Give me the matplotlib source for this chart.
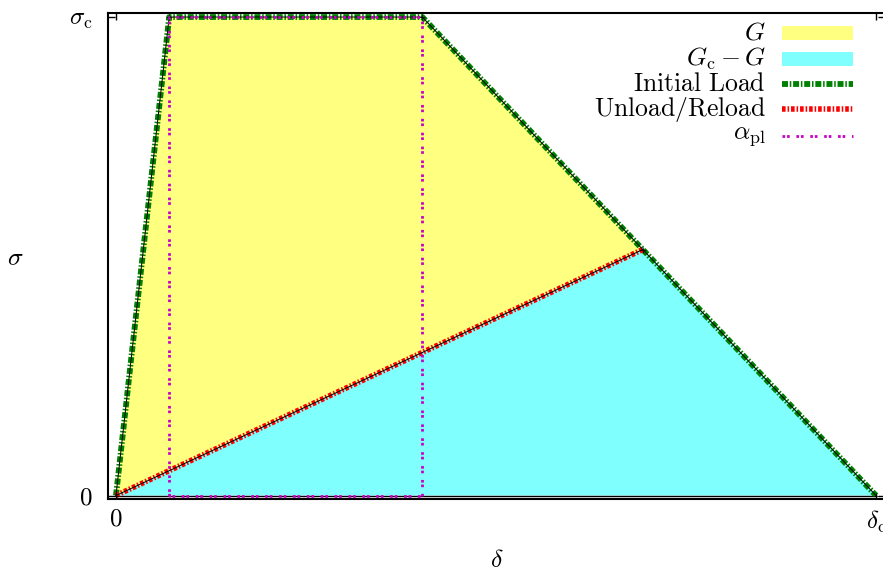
import matplotlib
matplotlib.use("Agg")
import matplotlib.pyplot as plt
from matplotlib.patches import Rectangle
from matplotlib.lines import Line2D

plt.rcParams["mathtext.fontset"] = "cm"
plt.rcParams["font.family"] = ["cmr10", "DejaVu Serif"]
plt.rcParams["lines.scale_dashes"] = False
plt.rcParams["axes.unicode_minus"] = False

# Cohesive law: initial loading envelope (normalised delta / sigma)
delta_env = [0.0, 0.07, 0.403, 1.0]
sigma_env = [0.0, 1.0, 1.0, 0.0]

# Unload / reload branch back to the origin from the current point
delta_unload = [0.0, 0.693]
sigma_unload = [0.0, 0.514]

# Plastic zone indicator alpha_pl
delta_pl = [0.07, 0.07, 0.403, 0.403, 0.07]
sigma_pl = [0.0, 1.0, 1.0, 0.0, 0.0]

# Energy regions
delta_G = [0.0, 0.07, 0.403, 0.693, 0.0]
sigma_G = [0.0, 1.0, 1.0, 0.514, 0.0]
delta_Gc = [0.0, 0.693, 1.0, 0.0]
sigma_Gc = [0.0, 0.514, 0.0, 0.0]

x_ticks = [0.0, 1.0]
x_ticklabels = [r"$0$", r"$\delta_{\rm c}$"]
y_ticks = [0.0, 1.0]
y_ticklabels = [r"$0$", r"$\sigma_{\rm c}$"]

legend_labels = [r"$G$", r"$G_{\rm c}-G$", r"$\mathrm{Initial\ Load}$",
                 r"$\mathrm{Unload/Reload}$", r"$\alpha_{\rm pl}$"]

c_yellow = "#ffff80"
c_cyan = "#80ffff"
c_green = "#008000"
c_red = "#ff0000"
c_mag = "#c800c8"

green_style = dict(color=c_green, lw=4.2, dashes=(4.3, 1.3, 1.1, 1.3))
red_style = dict(color=c_red, lw=4.0, dashes=(2.6, 1.4, 1.1, 1.4))
mag_style = dict(color=c_mag, lw=2.0, dashes=(1.9, 1.4, 1.9, 4.8))

fs = 18.5
fs_tick = 18

fig = plt.figure(figsize=(8.83, 5.71), dpi=100)
ax_w_px = 777
ax = fig.add_axes([108 / 883, 1 - 499 / 571, ax_w_px / 883, 486 / 571])

ax.fill(delta_G, sigma_G, color=c_yellow, lw=0, zorder=1)
ax.fill(delta_Gc, sigma_Gc, color=c_cyan, lw=0, zorder=1)

ax.plot(delta_env, sigma_env, zorder=3, **green_style)
ax.plot(delta_unload, sigma_unload, zorder=3, **red_style)
ax.plot([0.0, delta_env[-1]], [0.0, 0.0], color="black", lw=1.0, zorder=2)

# thin centre line with point marks along the curves
for xs, ys in [(delta_env, sigma_env), (delta_unload, sigma_unload)]:
    ax.plot(xs, ys, color="black", lw=0.7, marker="+", ms=4.5, mew=0.5,
            markevery=0.0145, zorder=4)

ax.plot(delta_pl, sigma_pl, zorder=5, **mag_style)

ax.set_xlim(-0.0105, 1.0118)
ax.set_ylim(-0.0073, 1.0084)

ax.set_xticks(x_ticks)
ax.set_xticklabels(x_ticklabels, fontsize=fs_tick)
ax.set_yticks(y_ticks)
ax.set_yticklabels(y_ticklabels, fontsize=fs_tick)
ax.tick_params(direction="in", length=5, width=1.0, top=True, right=True)
ax.tick_params(axis="x", pad=7)
ax.tick_params(axis="y", pad=11)
for s in ax.spines.values():
    s.set_linewidth(1.5)

ax.set_xlabel(r"$\delta$", fontsize=fs)
ax.xaxis.set_label_coords((497 - 108) / ax_w_px, -0.1255)
ax.xaxis.label.set_va("center")
ax.set_ylabel(r"$\sigma$", fontsize=fs, rotation=0, va="center", ha="center")
ax.yaxis.set_label_coords((15 - 108) / ax_w_px, 0.496)

# key, drawn in axes coordinates
row_y = [0.959, 0.905, 0.854, 0.802, 0.747]
tx, sx0, sx1 = (766 - 108) / ax_w_px, (782 - 108) / ax_w_px, (853 - 108) / ax_w_px
rect_h = 14 / 486
for i, (lab, y) in enumerate(zip(legend_labels, row_y)):
    ax.text(tx, y, lab, transform=ax.transAxes, ha="right", va="center",
            fontsize=fs, zorder=6)
    if i == 0:
        ax.add_patch(Rectangle((sx0, y - rect_h / 2), sx1 - sx0, rect_h,
                               transform=ax.transAxes, color=c_yellow, lw=0, zorder=6))
    elif i == 1:
        ax.add_patch(Rectangle((sx0, y - rect_h / 2), sx1 - sx0, rect_h,
                               transform=ax.transAxes, color=c_cyan, lw=0, zorder=6))
    else:
        st = [green_style, red_style, mag_style][i - 2]
        ax.add_line(Line2D([sx0, sx1], [y, y], transform=ax.transAxes,
                           zorder=6, **st))

fig.savefig("out.png", dpi=100)
